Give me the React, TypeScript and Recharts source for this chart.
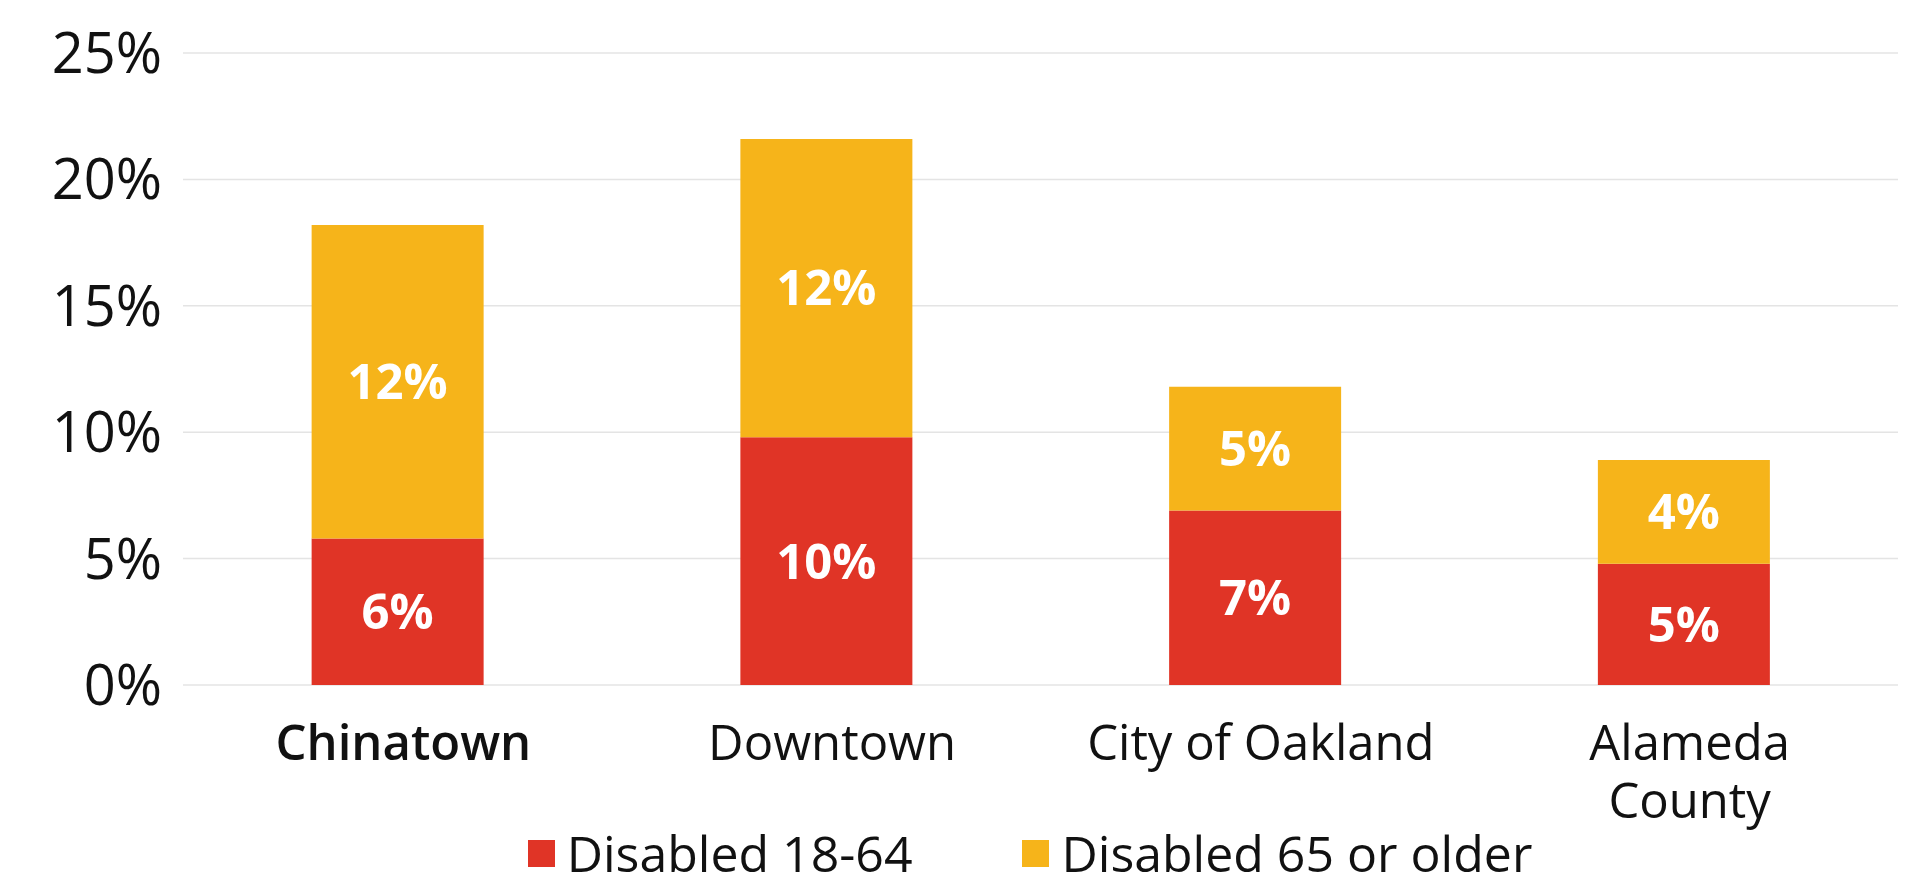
import React from "react";
import { BarChart, Bar, XAxis, YAxis, CartesianGrid, LabelList, Legend } from "recharts";

const categories = ["Chinatown", "Downtown", "City of Oakland", "Alameda County"];
const categoryLines = [["Chinatown"], ["Downtown"], ["City of Oakland"], ["Alameda", "County"]];
const highlightCategory = "Chinatown";
const disabled1864 = [5.8, 9.8, 6.9, 4.8];
const disabled65 = [12.4, 11.8, 4.9, 4.1];
const yTicks = [0, 5, 10, 15, 20, 25];
const seriesNames = ["Disabled 18-64", "Disabled 65 or older"];

const RED = "#E03426";
const YELLOW = "#F6B41A";
const FONT = "'Open Sans', 'DejaVu Sans', sans-serif";

const data = categories.map((name, i) => ({
  name,
  young: disabled1864[i],
  old: disabled65[i],
}));

const XTick = (props: any) => {
  const { x, y, payload } = props;
  const lines = categoryLines[payload.index] || [payload.value];
  const bold = payload.value === highlightCategory;
  return (
    <g>
      {lines.map((ln: string, k: number) => (
        <text
          key={k}
          x={x + 6}
          y={y + 75 + k * 58}
          textAnchor="middle"
          fontFamily={FONT}
          fontSize={49}
          fontWeight={bold ? 600 : 400}
          fill="#111"
        >
          {ln}
        </text>
      ))}
    </g>
  );
};

const YTick = (props: any) => {
  const { x, y, payload } = props;
  return (
    <text x={x} y={y + 20} textAnchor="end" fontFamily={FONT} fontSize={56} fill="#111">
      {`${payload.value}%`}
    </text>
  );
};

const LegendContent = () => {
  const colors = [RED, YELLOW];
  return (
    <div
      style={{
        display: "flex",
        justifyContent: "center",
        alignItems: "center",
        height: 56,
        paddingLeft: 162,
        paddingTop: 2,
        boxSizing: "border-box",
        fontFamily: FONT,
        fontSize: 50,
        lineHeight: 1,
        color: "#111",
      }}
    >
      {seriesNames.map((s, i) => (
        <div key={s} style={{ display: "flex", alignItems: "center", marginLeft: i === 0 ? 0 : 110 }}>
          <div style={{ width: 27, height: 27, background: colors[i], marginRight: 12 }} />
          <span>{s}</span>
        </div>
      ))}
    </div>
  );
};

const fmt = (v: any) => `${Math.round(Number(v))}%`;

export default function App() {
  return (
    <div style={{ position: "absolute", left: 0, top: 0, width: 1908, height: 884, background: "#fff" }}>
      <BarChart
        width={1908}
        height={884}
        data={data}
        margin={{ top: 53, right: 10, left: 0, bottom: 4 }}
        barCategoryGap="30%"
      >
        <CartesianGrid vertical={false} stroke="#e4e4e4" strokeWidth={1.5} />
        <XAxis
          dataKey="name"
          axisLine={false}
          tickLine={false}
          tickSize={0}
          tickMargin={0}
          height={139}
          interval={0}
          tick={(p: any) => <XTick {...p} />}
        />
        <YAxis
          domain={[0, 25]}
          ticks={yTicks}
          axisLine={false}
          tickLine={false}
          tickSize={0}
          tickMargin={21}
          width={183}
          interval={0}
          tick={(p: any) => <YTick {...p} />}
        />
        <Legend verticalAlign="bottom" height={56} content={() => <LegendContent />} />
        <Bar dataKey="young" name={seriesNames[0]} stackId="a" fill={RED} isAnimationActive={false}>
          <LabelList
            dataKey="young"
            position="center"
            formatter={fmt}
            fill="#fff"
            fontFamily={FONT}
            fontSize={49}
            fontWeight={700}
          />
        </Bar>
        <Bar dataKey="old" name={seriesNames[1]} stackId="a" fill={YELLOW} isAnimationActive={false}>
          <LabelList
            dataKey="old"
            position="center"
            formatter={fmt}
            fill="#fff"
            fontFamily={FONT}
            fontSize={49}
            fontWeight={700}
          />
        </Bar>
      </BarChart>
    </div>
  );
}
